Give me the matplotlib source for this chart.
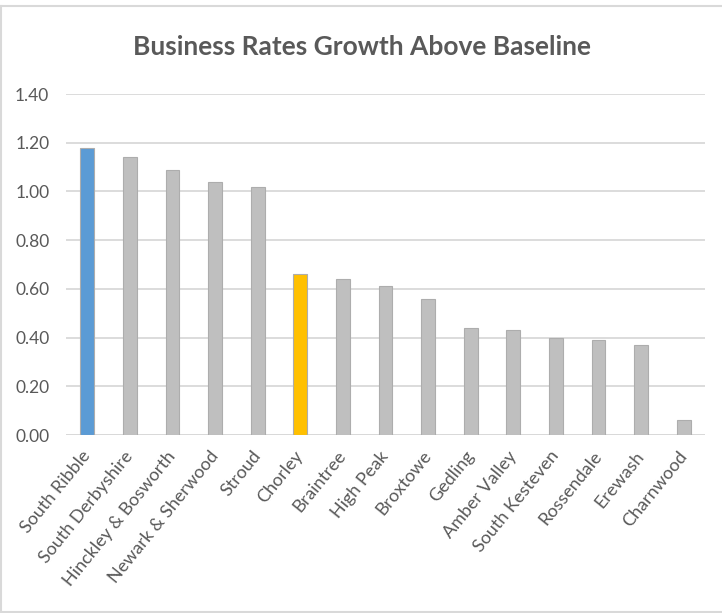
import matplotlib
matplotlib.use("Agg")
import matplotlib.pyplot as plt
from matplotlib.lines import Line2D

councils = ["South Ribble", "South Derbyshire", "Hinckley & Bosworth",
            "Newark & Sherwood", "Stroud", "Chorley", "Braintree", "High Peak",
            "Broxtowe", "Gedling", "Amber Valley", "South Kesteven",
            "Rossendale", "Erewash", "Charnwood"]
growth = [1.18, 1.14, 1.09, 1.04, 1.02, 0.66, 0.64, 0.61,
          0.56, 0.44, 0.43, 0.40, 0.39, 0.37, 0.06]

# highlight the two councils of interest, everything else grey
highlight = {"South Ribble": "#5B9BD5", "Chorley": "#FFC000"}
colours = [highlight.get(c, "#BFBFBF") for c in councils]

plt.rcParams["font.family"] = ["Lato", "DejaVu Sans"]
text_col = "#595959"
grid_col = "#D9D9D9"

fig = plt.figure(figsize=(7.22, 6.13), dpi=100, facecolor="white")
ax = fig.add_axes([66 / 722, 1 - 435 / 613, 639 / 722, (435 - 94) / 613])

x = range(len(councils))
ax.bar(x, growth, width=0.32, color=colours, edgecolor="#ADADAD", linewidth=0.8, zorder=3)

ax.set_xlim(-0.5, len(councils) - 0.5)
ax.set_ylim(0, 1.4)
ax.set_yticks([i * 0.2 for i in range(8)])
ax.set_yticklabels(["%.2f" % (i * 0.2) for i in range(8)])
ax.yaxis.grid(True, color=grid_col, linewidth=1.3, zorder=0)
ax.set_axisbelow(True)
for s in ax.spines.values():
    s.set_visible(False)
ax.axhline(0, color=grid_col, linewidth=1.3, zorder=1)

ax.tick_params(axis="both", length=0, colors=text_col)
ax.tick_params(axis="y", pad=12, labelsize=12.5)
ax.tick_params(axis="x", pad=13, labelsize=13)
ax.set_xticks(list(x))
ax.set_xticklabels(councils, rotation=51, ha="right", va="center", rotation_mode="anchor")

fig.text(362 / 722, 1 - 47 / 613, "Business Rates Growth Above Baseline",
         ha="center", va="center", fontsize=19, fontweight="bold", color=text_col)

# chart area border on top, left and bottom
for xs, ys in [([0.002, 1], [0.991, 0.991]), ([0.002, 0.002], [0.002, 0.991]),
               ([0.002, 1], [0.002, 0.002])]:
    fig.add_artist(Line2D(xs, ys, color=grid_col, linewidth=1.5, transform=fig.transFigure))

fig.savefig("out.png", dpi=100, facecolor="white")
